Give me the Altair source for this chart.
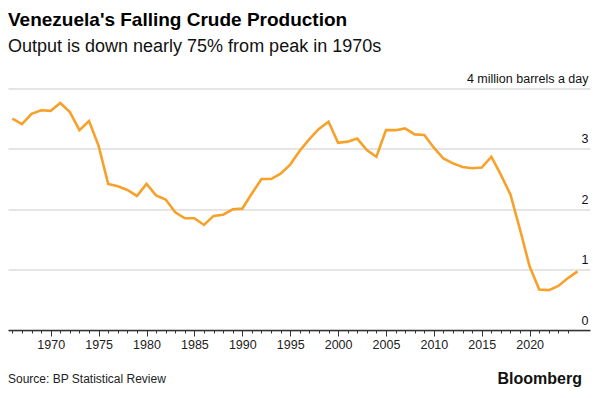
import altair as alt
import pandas as pd

years = list(range(1966, 2026))
production = [3.50, 3.41, 3.58, 3.64, 3.63, 3.76, 3.61, 3.31, 3.46, 3.05,
              2.42, 2.38, 2.32, 2.22, 2.42, 2.23, 2.16, 1.95, 1.85, 1.85,
              1.74, 1.89, 1.91, 2.00, 2.01, 2.26, 2.50, 2.50, 2.59, 2.74,
              2.97, 3.16, 3.33, 3.45, 3.10, 3.12, 3.17, 2.98, 2.87, 3.31,
              3.31, 3.34, 3.24, 3.23, 3.02, 2.84, 2.76, 2.70, 2.68, 2.69,
              2.87, 2.57, 2.24, 1.66, 1.05, 0.67, 0.66, 0.73, 0.86, 0.97]
tick_years = list(range(1966, 2025))
y_ticks = [0, 1, 2, 3, 4]
title_text = "Venezuela's Falling Crude Production"
subtitle_text = "Output is down nearly 75% from peak in 1970s"
source_text = "Source: BP Statistical Review"
brand_text = "Bloomberg"

df = pd.DataFrame({"year": years, "production": production})
footer = pd.DataFrame({"t": [source_text]})
brand = pd.DataFrame({"t": [brand_text]})

W, H = 582, 241.5

line = alt.Chart(df).mark_line(color="#f7a12b", strokeWidth=2.6).encode(
    x=alt.X("year:Q",
            scale=alt.Scale(domain=[1965.54, 2026.3], nice=False, zero=False),
            axis=alt.Axis(values=tick_years, format="d",
                          labelExpr="datum.value % 5 === 0 ? datum.label : ''",
                          tickSize={"condition": {"test": "datum.value % 5 === 0", "value": 6}, "value": 3},
                          grid=False, domainColor="#333333", domainWidth=1.5,
                          tickColor="#333333", tickWidth=1,
                          labelFontSize=12.5, labelColor="#222222",
                          labelPadding=2, labelFlush=False, labelOverlap=False,
                          title=None)),
    y=alt.Y("production:Q",
            scale=alt.Scale(domain=[0, 4], nice=False),
            axis=alt.Axis(orient="right", values=y_ticks,
                          labelExpr="datum.value === 4 ? '4 million barrels a day' : datum.label",
                          grid=True, gridColor="#dcdcdc", gridWidth=1.5,
                          domain=False, ticks=False, tickSize=0,
                          labelAlign="right", labelBaseline="alphabetic",
                          labelOffset=-6, labelPadding=-2,
                          labelFontSize=12.5, labelColor="#111111",
                          title=None)),
)

src = alt.Chart(footer).mark_text(align="left", baseline="middle", fontSize=12,
                                  color="#222222").encode(
    x=alt.value(0), y=alt.value(290.5), text="t:N")

brd = alt.Chart(brand).mark_text(align="right", baseline="middle", fontSize=16,
                                 fontWeight="bold", color="#111111").encode(
    x=alt.value(574), y=alt.value(290.5), text="t:N")

chart = alt.layer(line, src, brd).properties(
    width=W, height=H,
    title=alt.TitleParams(text=title_text, subtitle=subtitle_text,
                          anchor="start", frame="group",
                          fontSize=19, fontWeight="bold", color="#000000",
                          subtitleFontSize=18, subtitleColor="#111111",
                          subtitlePadding=8, offset=17),
    autosize=alt.AutoSizeParams(type="none"),
    padding={"left": 0, "top": 80.5, "right": 7, "bottom": 58},
).configure(font="Liberation Sans").configure_view(stroke=None)

chart.save("out.html", embed_options={"renderer": "svg", "actions": False})
